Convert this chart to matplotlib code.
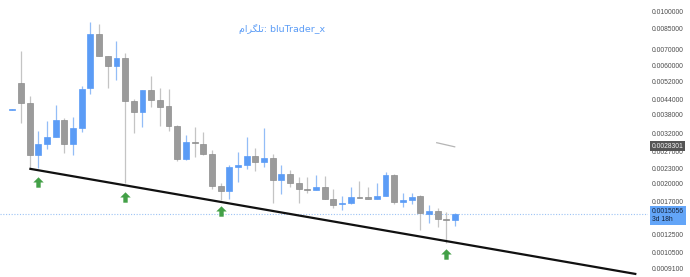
import matplotlib
matplotlib.use("Agg")
import matplotlib.pyplot as plt
import matplotlib.transforms as mtransforms
from matplotlib.path import Path
from matplotlib.ticker import FixedLocator, NullLocator, FixedFormatter
import numpy as np

# candle data (log price chart), one entry per candle
opens = [0.00397, 0.00510, 0.00423, 0.00261, 0.00290, 0.00310, 0.00362, 0.00290, 0.00336, 0.00486,
         0.00807, 0.00657, 0.00599, 0.00643, 0.00432, 0.00391, 0.00479, 0.00436, 0.00412, 0.00342,
         0.00251, 0.00295, 0.00289, 0.00263, 0.00196, 0.00186, 0.00234, 0.00239, 0.00259, 0.00245,
         0.00253, 0.00207, 0.00219, 0.00201, 0.00191, 0.00189, 0.00193, 0.00174, 0.00165, 0.00167,
         0.00177, 0.00177, 0.00174, 0.00179, 0.00217, 0.00169, 0.00172, 0.00178, 0.00151, 0.00155,
         0.00144, 0.00142]
highs = [0.00402, 0.00691, 0.00453, 0.00327, 0.00359, 0.00416, 0.00369, 0.00373, 0.00498, 0.00900,
         0.00883, 0.00658, 0.00756, 0.00674, 0.00439, 0.00479, 0.00546, 0.00486, 0.00483, 0.00346,
         0.00315, 0.00338, 0.00323, 0.00274, 0.00202, 0.00238, 0.00269, 0.00310, 0.00278, 0.00335,
         0.00264, 0.00238, 0.00227, 0.00213, 0.00213, 0.00217, 0.00215, 0.00191, 0.00179, 0.00194,
         0.00206, 0.00193, 0.00201, 0.00224, 0.00218, 0.00184, 0.00184, 0.00180, 0.00164, 0.00160,
         0.00153, 0.00152]
lows = [0.00396, 0.00351, 0.00231, 0.00231, 0.00276, 0.00309, 0.00266, 0.00261, 0.00325, 0.00461,
        0.00655, 0.00486, 0.00524, 0.00202, 0.00322, 0.00340, 0.00410, 0.00342, 0.00327, 0.00247,
        0.00250, 0.00257, 0.00261, 0.00190, 0.00172, 0.00174, 0.00204, 0.00229, 0.00226, 0.00234,
        0.00167, 0.00182, 0.00194, 0.00167, 0.00183, 0.00189, 0.00174, 0.00160, 0.00157, 0.00165,
        0.00175, 0.00174, 0.00174, 0.00179, 0.00165, 0.00161, 0.00165, 0.00130, 0.00139, 0.00134,
        0.00115, 0.00135]
closes = [0.00401, 0.00423, 0.00261, 0.00289, 0.00309, 0.00362, 0.00290, 0.00336, 0.00483, 0.00807,
          0.00657, 0.00599, 0.00643, 0.00432, 0.00391, 0.00479, 0.00436, 0.00410, 0.00342, 0.00251,
          0.00295, 0.00291, 0.00263, 0.00196, 0.00186, 0.00234, 0.00239, 0.00259, 0.00245, 0.00253,
          0.00207, 0.00219, 0.00201, 0.00190, 0.00189, 0.00193, 0.00174, 0.00164, 0.00167, 0.00176,
          0.00175, 0.00174, 0.00178, 0.00217, 0.00168, 0.00172, 0.00177, 0.00152, 0.00155, 0.00144,
          0.00142, 0.0015056]

# price scale labels
tick_values = [0.0100000, 0.0085000, 0.0070000, 0.0060000, 0.0052000, 0.0044000, 0.0038000,
               0.0032000, 0.0027000, 0.0023000, 0.0020000, 0.0017000, 0.0012500, 0.0010500, 0.0009100]

# drawings
trend_x = [1.96, 71.9]
trend_y = [0.00230, 0.000861]
arrow_x = [3, 13, 24, 50]
arrow_y = [0.00203, 0.00177, 0.00155, 0.00104]
seg_x = [48.9, 50.97]
seg_y = [0.00293, 0.00282]
marked_price = 0.0028301
countdown = "3d 18h"
# "تلگرام" written with Arabic presentation forms in visual order (matplotlib does no shaping)
watermark = "\uFEE1\uFE8D\uFEAE\uFB95\uFEE0\uFE97" + ": bluTrader_x"

BLUE = "#5b9cf6"
BLUE_WICK = "#93bdf7"
GRAY = "#9b9b9b"
GRAY_EDGE = "#8c8c8c"
GRAY_WICK = "#c4c4c4"

fig = plt.figure(figsize=(6.9, 2.77), dpi=100)
ax = fig.add_axes([0, 0, 648 / 690, 1])
ax.set_yscale("log")

x = np.arange(len(opens))
o = np.array(opens)
h = np.array(highs)
l = np.array(lows)
c = np.array(closes)
up = c >= o

# wicks
ax.vlines(x[up], l[up], h[up], color=BLUE_WICK, lw=0.9, zorder=2)
ax.vlines(x[~up], l[~up], h[~up], color=GRAY_WICK, lw=0.9, zorder=2)

# bodies
bottom = np.minimum(o, c)
height = np.abs(c - o)
ax.bar(x[up], height[up], bottom=bottom[up], width=0.68, color=BLUE,
       edgecolor=BLUE, linewidth=0.5, zorder=3)
ax.bar(x[~up], height[~up], bottom=bottom[~up], width=0.68, color=GRAY,
       edgecolor=GRAY_EDGE, linewidth=0.5, zorder=3)

# support trend line
ax.plot(trend_x, trend_y, color="#111111", lw=1.6, solid_capstyle="butt", zorder=4)

# small grey drawing
ax.plot(seg_x, seg_y, color="#b5b5b5", lw=0.9, zorder=2)

# green up arrows
arrow_path = Path([(0, 1), (1, 0), (0.42, 0), (0.42, -1), (-0.42, -1), (-0.42, 0), (-1, 0), (0, 1)],
                  [Path.MOVETO] + [Path.LINETO] * 6 + [Path.CLOSEPOLY])
ax.plot(arrow_x, arrow_y, linestyle="none", marker=arrow_path, markersize=7.5,
        color="#43a047", markeredgewidth=0, zorder=5)

# current price line
ax.axhline(closes[-1], color="#9cc3f5", lw=0.8, ls=(0, (1, 1.5)), zorder=1)

# watermark text
ax.text(0.435, 0.894, watermark, transform=ax.transAxes,
        ha="center", va="center", fontsize=6.8, color="#5b9cf6",
        family=["DejaVu Sans"])

# axes setup
ax.set_xlim(-1.417, 73.24)
ax.set_ylim(0.000838, 0.011081)
ax.xaxis.set_major_locator(NullLocator())
ax.yaxis.tick_right()
ax.yaxis.set_major_locator(FixedLocator(tick_values))
ax.yaxis.set_major_formatter(FixedFormatter(["%.7f" % v for v in tick_values]))
ax.yaxis.set_minor_locator(NullLocator())
ax.tick_params(axis="y", length=0, pad=3, labelsize=4.9, labelcolor="#4d4d4d")
for lab in ax.get_yticklabels():
    lab.set_family("Liberation Sans")
for s in ax.spines.values():
    s.set_visible(False)

# price scale badges
blend = mtransforms.blended_transform_factory(ax.transAxes, ax.transData)
ax.text(1.0055, marked_price, "%.7f" % marked_price, transform=blend, ha="left", va="center",
        fontsize=4.9, family="Liberation Sans", color="#f2f2f2", clip_on=False, zorder=10,
        bbox=dict(boxstyle="square,pad=0.22", fc="#555555", ec="none"))
shift = mtransforms.ScaledTranslation(0, 4.2 / 72, fig.dpi_scale_trans)
ax.text(1.0055, closes[-1], "%.7f\n%s" % (closes[-1], countdown), transform=blend + shift,
        ha="left", va="top", fontsize=4.9, family="Liberation Sans", color="#16233a",
        linespacing=1.15, clip_on=False, zorder=10,
        bbox=dict(boxstyle="square,pad=0.3", fc="#63a5f8", ec="none"))

fig.savefig("out.png", dpi=100)
